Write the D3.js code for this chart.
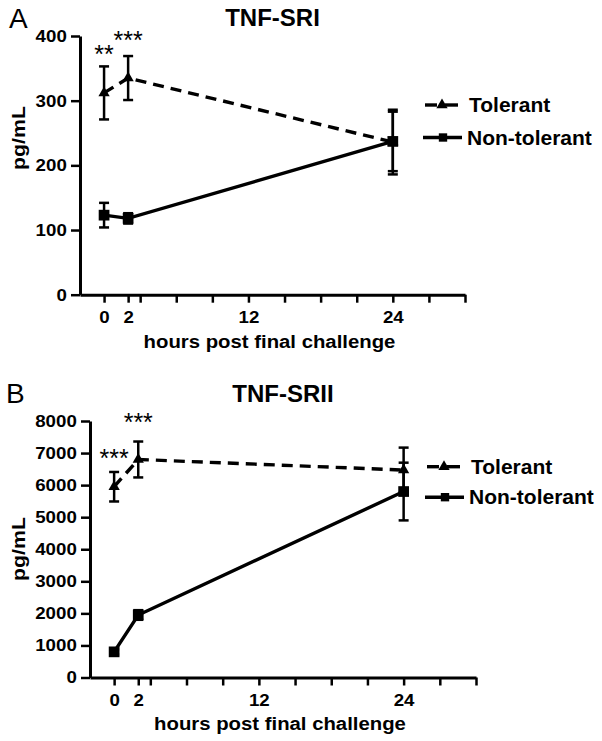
<!DOCTYPE html>
<html>
<head>
<meta charset="utf-8">
<script src="https://cdn.jsdelivr.net/npm/d3@7"></script>
<style>
  html, body { margin: 0; padding: 0; background: #fff; }
  svg { display: block; }
  text { font-family: "Liberation Sans", Arial, Helvetica, sans-serif; fill: #000; }
</style>
</head>
<body>
<svg id="chart" width="602" height="741"></svg>
<script>
// ---------------- data ----------------
const hours = [0, 2, 24];
const xTickValues = [0, 2, 3, 6, 9, 12, 15, 18, 21, 24, 27, 30];
const xTickLabels = [0, 2, 12, 24];
const seriesNames = ["Tolerant", "Non-tolerant"];

// Panel A: TNF-SRI
const titleA = "TNF-SRI";
const yTicksA = [0, 100, 200, 300, 400];
const tolerantA = [312, 335, 236];
const tolerantA_sem = [41, 34, 50];
const nonTolerantA = [123, 118, 237];
const nonTolerantA_sem = [19, 8, 46];
const starsA = ["**", "***", ""];

// Panel B: TNF-SRII
const titleB = "TNF-SRII";
const yTicksB = [0, 1000, 2000, 3000, 4000, 5000, 6000, 7000, 8000];
const tolerantB = [5950, 6800, 6470];
const tolerantB_sem = [460, 560, 700];
const nonTolerantB = [800, 1950, 5800];
const nonTolerantB_sem = [80, 150, 900];
const starsB = ["***", "***", ""];

const xLabel = "hours post final challenge";
const yLabel = "pg/mL";

// ---------------- layout ----------------
const FONT = '"Liberation Sans", Arial, Helvetica, sans-serif';
const svg = d3.select("#chart");

function txt(parent, x, y, s, o) {
  o = Object.assign({size: 16, weight: "bold", anchor: "start", sx: 1, rotate: 0}, o || {});
  const g = parent.append("g")
    .attr("transform", `translate(${x},${y}) rotate(${o.rotate}) scale(${o.sx},1)`);
  g.append("text")
    .attr("text-anchor", o.anchor)
    .style("font-size", o.size + "px")
    .style("font-weight", o.weight)
    .text(s);
  return g;
}

const panels = [
  {
    letter: "A", title: titleA, yTicks: yTicksA, yMax: 400,
    tol: tolerantA, tolSem: tolerantA_sem, non: nonTolerantA, nonSem: nonTolerantA_sem,
    stars: starsA, starGap: [3, 7, 0],
    x0: 80, x1: 465, yTop: 36, yBot: 294.7,
    letterPos: [9, 28], titleY: 26, yLabelY: 138,
    legend: {x: 425, y: 105, dy: 32.5, textX: 469},
    xTitleY: 348
  },
  {
    letter: "B", title: titleB, yTicks: yTicksB, yMax: 8000,
    tol: tolerantB, tolSem: tolerantB_sem, non: nonTolerantB, nonSem: nonTolerantB_sem,
    stars: starsB, starGap: [5, 11, 0],
    x0: 90, x1: 476, yTop: 421, yBot: 677.5,
    letterPos: [6, 403], titleY: 402, yLabelY: 549,
    legend: {x: 427, y: 466.7, dy: 30.5, textX: 471},
    xTitleY: 730
  }
];

panels.forEach(p => {
  const x = d3.scaleLinear().domain([-2, 30]).range([p.x0, p.x1]);
  const y = d3.scaleLinear().domain([0, p.yMax]).range([p.yBot, p.yTop]);
  const g = svg.append("g");

  // panel letter
  txt(g, p.letterPos[0], p.letterPos[1], p.letter, {size: 28, weight: "normal"});
  // title
  txt(g, (p.x0 + p.x1) / 2, p.titleY, p.title, {size: 24, anchor: "middle"});

  // y axis
  const yAxis = g.append("g")
    .attr("transform", `translate(${p.x0},0)`)
    .call(d3.axisLeft(y).tickValues(p.yTicks).tickSize(9).tickSizeOuter(0).tickPadding(3).tickFormat(d3.format("d")));
  yAxis.select(".domain").attr("stroke-width", 3).attr("stroke", "#000");
  yAxis.selectAll(".tick line").attr("stroke-width", 2.5).attr("stroke", "#000");
  yAxis.selectAll(".tick text")
    .attr("transform", "scale(1.1,1)")
    .style("font-family", FONT).style("font-size", "17px").style("font-weight", "bold")
    .attr("fill", "#000");

  // x axis
  const xAxis = g.append("g")
    .attr("transform", `translate(0,${p.yBot})`)
    .call(d3.axisBottom(x).tickValues(xTickValues).tickSize(8).tickSizeOuter(0).tickPadding(8)
      .tickFormat(d => xTickLabels.includes(d) ? d : ""));
  xAxis.select(".domain").attr("stroke-width", 3).attr("stroke", "#000");
  xAxis.selectAll(".tick line").attr("stroke-width", 2.5).attr("stroke", "#000");
  xAxis.selectAll(".tick text")
    .style("font-family", FONT).style("font-size", "17px").style("font-weight", "bold")
    .attr("fill", "#000")
    .each(function() {
      const t = d3.select(this);
      const yy = +t.attr("y");
      t.attr("y", null).attr("transform", `translate(0,${yy}) scale(1.1,1)`);
    });

  // axis titles
  txt(g, (p.x0 + p.x1) / 2 - 3, p.xTitleY, xLabel, {size: 18, anchor: "middle", sx: 1.13});
  txt(g, 25, p.yLabelY, yLabel, {size: 19, anchor: "middle", sx: 1.12, rotate: -90});

  const line = d3.line().x(d => x(d[0])).y(d => y(d[1]));
  const tolPts = hours.map((h, i) => [h, p.tol[i]]);
  const nonPts = hours.map((h, i) => [h, p.non[i]]);

  // error bars
  function errBars(means, sems) {
    hours.forEach((h, i) => {
      const cx = x(h), top = y(means[i] + sems[i]), bot = y(means[i] - sems[i]);
      g.append("line").attr("x1", cx).attr("x2", cx).attr("y1", top).attr("y2", bot)
        .attr("stroke", "#000").attr("stroke-width", 2.5);
      [top, bot].forEach(yy => g.append("line")
        .attr("x1", cx - 5).attr("x2", cx + 5).attr("y1", yy).attr("y2", yy)
        .attr("stroke", "#000").attr("stroke-width", 2.5));
    });
  }
  errBars(p.tol, p.tolSem);
  errBars(p.non, p.nonSem);

  // lines
  g.append("path").datum(tolPts).attr("d", line).attr("fill", "none")
    .attr("stroke", "#000").attr("stroke-width", 3.4).attr("stroke-dasharray", "11,7");
  g.append("path").datum(nonPts).attr("d", line).attr("fill", "none")
    .attr("stroke", "#000").attr("stroke-width", 3.4);

  const tri = d3.symbol().type(d3.symbolTriangle).size(55);
  const sq = d3.symbol().type(d3.symbolSquare).size(115);
  tolPts.forEach(d => g.append("path").attr("d", tri()).attr("fill", "#000")
    .attr("transform", `translate(${x(d[0])},${y(d[1])})`));
  nonPts.forEach(d => g.append("path").attr("d", sq()).attr("fill", "#000")
    .attr("transform", `translate(${x(d[0])},${y(d[1])})`));

  // significance stars
  hours.forEach((h, i) => {
    if (!p.stars[i]) return;
    const top = y(p.tol[i] + p.tolSem[i]);
    txt(g, x(h), top - p.starGap[i], p.stars[i], {size: 25, weight: "normal", anchor: "middle"});
  });

  // legend
  const L = p.legend;
  const lg = g.append("g");
  // Tolerant
  lg.append("line").attr("x1", L.x).attr("x2", L.x + 12).attr("y1", L.y).attr("y2", L.y)
    .attr("stroke", "#000").attr("stroke-width", 3.4);
  lg.append("line").attr("x1", L.x + 20).attr("x2", L.x + 33).attr("y1", L.y).attr("y2", L.y)
    .attr("stroke", "#000").attr("stroke-width", 3.4);
  lg.append("path").attr("d", tri()).attr("fill", "#000")
    .attr("transform", `translate(${L.x + 17},${L.y})`);
  txt(lg, L.textX, L.y + 7, seriesNames[0], {size: 21});
  // Non-tolerant
  const y2 = L.y + L.dy;
  lg.append("line").attr("x1", L.x - 2).attr("x2", L.x + 37).attr("y1", y2).attr("y2", y2)
    .attr("stroke", "#000").attr("stroke-width", 3.4);
  lg.append("path").attr("d", d3.symbol().type(d3.symbolSquare).size(70)()).attr("fill", "#000")
    .attr("transform", `translate(${L.x + 18},${y2})`);
  txt(lg, L.textX - 2, y2 + 7, seriesNames[1], {size: 21});
});
</script>
</body>
</html>
